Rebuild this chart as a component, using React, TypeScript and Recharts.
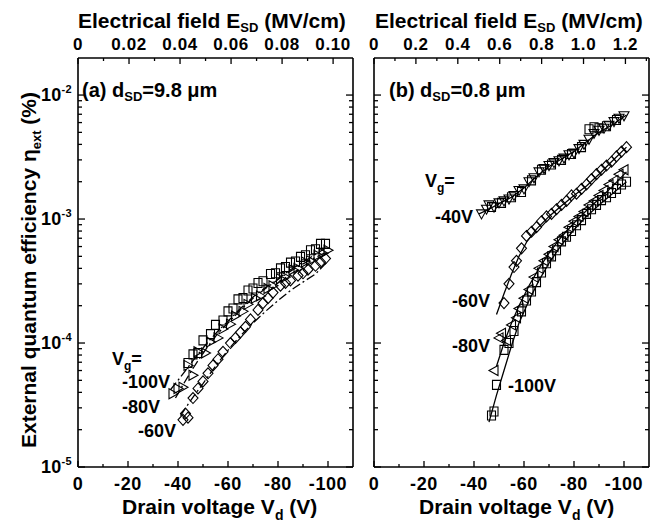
import { ScatterChart, Scatter, XAxis, YAxis } from "recharts";

const FONT = '"Liberation Sans", Arial, Helvetica, sans-serif';
const INK = "#000";

// ---- panel (a): d_SD = 9.8 um ----
const aSquareV = [-44, -46, -48, -50, -53, -55, -58, -60, -62, -64, -66, -68, -70, -72, -74, -77, -79, -81, -83, -85, -87, -89, -91, -93, -95, -97, -99];
const aSquareEta = [6.9e-5, 8.1e-5, 8.3e-5, 1.05e-4, 1.18e-4, 1.4e-4, 1.52e-4, 1.8e-4, 1.9e-4, 2.25e-4, 2.3e-4, 2.65e-4, 2.75e-4, 3.05e-4, 3.15e-4, 3.6e-4, 3.65e-4, 4.0e-4, 4.1e-4, 4.45e-4, 4.55e-4, 4.95e-4, 5.1e-4, 5.6e-4, 5.7e-4, 6.3e-4, 6.3e-4];

const aTriV = [-38, -40, -42, -44, -46, -48, -51, -53, -56, -58, -61, -63, -66, -68, -71, -73, -76, -78, -81, -83, -86, -88, -91, -93, -96, -98, -100];
const aTriEta = [3.9e-5, 4.3e-5, 4.4e-5, 6.6e-5, 5.5e-5, 8.5e-5, 8.3e-5, 1.02e-4, 1.1e-4, 1.3e-4, 1.42e-4, 1.65e-4, 1.8e-4, 2.05e-4, 2.3e-4, 2.4e-4, 2.75e-4, 2.9e-4, 3.3e-4, 3.4e-4, 3.9e-4, 4.0e-4, 4.5e-4, 4.6e-4, 5.1e-4, 5.3e-4, 5.6e-4];

const aDiamondV = [-42, -43, -44, -46, -48, -50, -52, -54, -56, -58, -61, -63, -65, -67, -69, -72, -74, -76, -78, -81, -83, -85, -88, -90, -92, -95, -97, -99];
const aDiamondEta = [2.4e-5, 2.7e-5, 2.5e-5, 3.6e-5, 4.3e-5, 4.9e-5, 5.7e-5, 6.6e-5, 7.4e-5, 8.5e-5, 1.0e-4, 1.1e-4, 1.22e-4, 1.35e-4, 1.55e-4, 1.85e-4, 2.1e-4, 2.3e-4, 2.55e-4, 2.9e-4, 3.05e-4, 3.2e-4, 3.5e-4, 3.65e-4, 3.9e-4, 4.2e-4, 4.5e-4, 4.8e-4];

const aFit100V = [-37, -40, -43, -46, -49, -52, -56, -60, -65, -70, -75, -80, -85, -90, -95, -100];
const aFit100Eta = [4.2e-5, 5.0e-5, 6.0e-5, 7.2e-5, 8.6e-5, 1.02e-4, 1.25e-4, 1.5e-4, 1.9e-4, 2.35e-4, 2.8e-4, 3.3e-4, 3.9e-4, 4.5e-4, 5.2e-4, 6.0e-4];
const aFit80V = [-39, -42, -45, -48, -52, -56, -60, -65, -70, -75, -80, -85, -90, -95, -100];
const aFit80Eta = [3.6e-5, 4.6e-5, 5.8e-5, 7.2e-5, 9.4e-5, 1.2e-4, 1.45e-4, 1.85e-4, 2.3e-4, 2.75e-4, 3.25e-4, 3.8e-4, 4.35e-4, 4.9e-4, 5.5e-4];
const aFit60V = [-41, -44, -47, -50, -54, -58, -62, -66, -70, -75, -80, -85, -90, -95, -100];
const aFit60Eta = [2.6e-5, 3.2e-5, 3.9e-5, 4.7e-5, 6.1e-5, 7.8e-5, 9.8e-5, 1.2e-4, 1.45e-4, 1.8e-4, 2.2e-4, 2.65e-4, 3.1e-4, 3.6e-4, 4.6e-4];

// ---- panel (b): d_SD = 0.8 um ----
const b40TriV = [-43, -45, -46, -48, -50, -52, -54, -56, -58, -60, -62, -64, -66, -68, -70, -72, -74, -76, -78, -80, -82, -84, -86, -88, -90, -92, -94, -96, -98, -100];
const b40TriEta = [1.1e-3, 1.2e-3, 1.3e-3, 1.25e-3, 1.35e-3, 1.4e-3, 1.45e-3, 1.55e-3, 1.7e-3, 1.75e-3, 2.0e-3, 2.15e-3, 2.4e-3, 2.55e-3, 2.7e-3, 2.85e-3, 2.95e-3, 3.1e-3, 3.3e-3, 3.4e-3, 3.7e-3, 4.0e-3, 4.4e-3, 4.9e-3, 5.2e-3, 5.4e-3, 5.7e-3, 6.1e-3, 6.5e-3, 6.8e-3];
const b40SquareV = [-47, -51, -55, -59, -63, -67, -71, -75, -79, -83, -86, -88, -90, -93, -97];
const b40SquareEta = [1.25e-3, 1.35e-3, 1.5e-3, 1.65e-3, 2.05e-3, 2.5e-3, 2.75e-3, 3.0e-3, 3.35e-3, 3.8e-3, 5.3e-3, 5.5e-3, 5.4e-3, 5.6e-3, 6.3e-3];

const b60DiamondV = [-52, -54, -56, -57, -59, -61, -63, -65, -67, -69, -71, -73, -75, -77, -79, -81, -83, -85, -87, -89, -91, -93, -95, -97, -99, -101];
const b60DiamondEta = [2.1e-4, 3.0e-4, 4.1e-4, 4.6e-4, 5.8e-4, 7.3e-4, 7.9e-4, 8.6e-4, 9.6e-4, 1.05e-3, 1.1e-3, 1.2e-3, 1.3e-3, 1.4e-3, 1.55e-3, 1.6e-3, 1.75e-3, 1.9e-3, 2.1e-3, 2.3e-3, 2.5e-3, 2.7e-3, 2.9e-3, 3.2e-3, 3.5e-3, 3.8e-3];

const b80TriV = [-48, -50, -51, -53, -55, -57, -58, -60, -62, -64, -66, -68, -70, -72, -74, -76, -78, -80, -82, -84, -86, -88, -90, -92, -94, -96, -98, -100];
const b80TriEta = [6.0e-5, 1.1e-4, 1.2e-4, 1.05e-4, 1.4e-4, 1.6e-4, 1.9e-4, 2.3e-4, 2.7e-4, 3.4e-4, 4.0e-4, 4.6e-4, 5.2e-4, 6.0e-4, 6.8e-4, 7.4e-4, 8.6e-4, 9.6e-4, 1.05e-3, 1.15e-3, 1.3e-3, 1.4e-3, 1.55e-3, 1.7e-3, 1.9e-3, 2.05e-3, 2.3e-3, 2.5e-3];

const b100SquareV = [-47, -48, -49, -52, -54, -56, -59, -61, -63, -65, -67, -69, -71, -73, -75, -77, -79, -81, -83, -85, -87, -89, -91, -93, -95, -97, -99, -101];
const b100SquareEta = [2.6e-5, 2.8e-5, 4.6e-5, 8.8e-5, 1.0e-4, 1.25e-4, 1.8e-4, 2.2e-4, 2.6e-4, 3.1e-4, 3.7e-4, 4.4e-4, 5.0e-4, 5.6e-4, 6.6e-4, 7.2e-4, 8.0e-4, 8.9e-4, 9.8e-4, 1.1e-3, 1.2e-3, 1.3e-3, 1.42e-3, 1.5e-3, 1.62e-3, 1.75e-3, 1.9e-3, 2.0e-3];

const bFit40V = [-42, -46, -50, -55, -60, -65, -70, -75, -80, -85, -90, -95, -101];
const bFit40Eta = [1.1e-3, 1.2e-3, 1.33e-3, 1.5e-3, 1.78e-3, 2.2e-3, 2.65e-3, 3.05e-3, 3.5e-3, 4.2e-3, 5.0e-3, 5.7e-3, 6.9e-3];
const bFit60V = [-49, -52, -55, -58, -61, -65, -70, -75, -80, -85, -90, -95, -101];
const bFit60Eta = [1.7e-4, 2.5e-4, 3.6e-4, 5.0e-4, 6.5e-4, 8.3e-4, 1.05e-3, 1.28e-3, 1.55e-3, 1.85e-3, 2.3e-3, 2.9e-3, 3.8e-3];
const bFit80V = [-49, -52, -55, -58, -62, -66, -70, -75, -80, -85, -90, -95, -101];
const bFit80Eta = [6.5e-5, 1.0e-4, 1.45e-4, 2.0e-4, 2.9e-4, 4.0e-4, 5.3e-4, 7.2e-4, 9.3e-4, 1.17e-3, 1.45e-3, 1.8e-3, 2.4e-3];
const bFit100V = [-46, -49, -52, -55, -58, -62, -66, -70, -75, -80, -85, -90, -95, -101];
const bFit100Eta = [2.3e-5, 3.8e-5, 6.0e-5, 9.5e-5, 1.45e-4, 2.2e-4, 3.2e-4, 4.4e-4, 6.2e-4, 8.2e-4, 1.05e-3, 1.3e-3, 1.58e-3, 2.0e-3];

// ---- ticks ----
const xTicks = [0, -10, -20, -30, -40, -50, -60, -70, -80, -90, -100];
const topTicksA = [0, 0.01, 0.02, 0.03, 0.04, 0.05, 0.06, 0.07, 0.08, 0.09, 0.1];
const topTicksB = [0, 0.1, 0.2, 0.3, 0.4, 0.5, 0.6, 0.7, 0.8, 0.9, 1.0, 1.1, 1.2, 1.3];
const yTicks = [
  1e-5, 2e-5, 3e-5, 4e-5, 5e-5, 6e-5, 7e-5, 8e-5, 9e-5,
  1e-4, 2e-4, 3e-4, 4e-4, 5e-4, 6e-4, 7e-4, 8e-4, 9e-4,
  1e-3, 2e-3, 3e-3, 4e-3, 5e-3, 6e-3, 7e-3, 8e-3, 9e-3,
  1e-2,
];

type Pt = { v: number; eta: number };
type Kind = "square" | "diamond" | "triR" | "triL" | "triD" | "triU";
const zip = (v: number[], e: number[]): Pt[] => v.map((x, i) => ({ v: x, eta: e[i] }));

const marker = (kind: Kind) => (p: any) => {
  const { cx, cy } = p;
  if (cx == null || cy == null) return <g />;
  let d = "";
  if (kind === "square") d = `M${cx - 4},${cy - 4.5}h8v9h-8z`;
  else if (kind === "diamond") d = `M${cx},${cy - 5.5}L${cx + 5},${cy}L${cx},${cy + 5.5}L${cx - 5},${cy}Z`;
  else if (kind === "triR") d = `M${cx - 4},${cy - 5}L${cx + 5},${cy}L${cx - 4},${cy + 5}Z`;
  else if (kind === "triL") d = `M${cx + 4},${cy - 5}L${cx - 5},${cy}L${cx + 4},${cy + 5}Z`;
  else if (kind === "triD") d = `M${cx - 5},${cy - 4}L${cx + 5},${cy - 4}L${cx},${cy + 5}Z`;
  else d = `M${cx - 5},${cy + 4}L${cx + 5},${cy + 4}L${cx},${cy - 5}Z`;
  return <path d={d} fill="none" stroke={INK} strokeWidth={1.1} />;
};
const noDot = () => <g />;

const tickText = { fontFamily: FONT, fontWeight: "bold" as const, fontSize: 18, letterSpacing: 0.6, fill: INK };

const BottomTick = (p: any) => {
  const { x, y, payload } = p;
  const v = payload.value as number;
  const major = Math.round(v) % 20 === 0;
  return (
    <g>
      <line x1={x} x2={x} y1={y} y2={y - (major ? 6 : 3)} stroke={INK} strokeWidth={1.3} />
      {major && (
        <text x={x} y={y + 23} textAnchor="middle" {...tickText}>
          {v === 0 ? "0" : String(v)}
        </text>
      )}
    </g>
  );
};

const makeTopTick = (digits: number) => (p: any) => {
  const { x, y, payload, index } = p;
  const major = index % 2 === 0;
  const v = payload.value as number;
  return (
    <g>
      <line x1={x} x2={x} y1={y} y2={y + (major ? 6 : 3)} stroke={INK} strokeWidth={1.3} />
      {major && (
        <text x={x} y={y - 8} textAnchor="middle" {...tickText} fontSize={17}>
          {v === 0 ? "0" : v.toFixed(digits)}
        </text>
      )}
    </g>
  );
};

const makeYTick = (side: "left" | "right", labels: boolean) => (p: any) => {
  const { x, y, payload } = p;
  const e = Math.log10(payload.value as number);
  const major = Math.abs(e - Math.round(e)) < 1e-6;
  const dir = side === "left" ? 1 : -1;
  return (
    <g>
      <line x1={x} x2={x + dir * (major ? 7 : 4)} y1={y} y2={y} stroke={INK} strokeWidth={1.3} />
      {labels && major && (
        <text x={x - 6} y={y + 6} textAnchor="end" {...tickText} letterSpacing={0.3}>
          10<tspan dy={-8} fontSize={11}>{Math.round(e)}</tspan>
        </text>
      )}
    </g>
  );
};

const axisLine = { stroke: INK, strokeWidth: 1.6 };
const Y_DOMAIN: [number, number] = [1e-5, 0.0199];

type PanelProps = {
  width: number;
  leftW: number;
  rightW: number;
  yLabels: boolean;
  topDomain: [number, number];
  topTicks: number[];
  topDigits: number;
  markers: { data: Pt[]; kind: Kind }[];
  fits: Pt[][];
  fitDash?: string;
};

function Panel(props: PanelProps) {
  const { width, leftW, rightW, yLabels, topDomain, topTicks, topDigits, markers, fits, fitDash } = props;
  // invisible anchor so the top / right mirror axes get their scales
  const anchor = topTicks.map((t) => ({ e: t, eta: Y_DOMAIN[0] }));
  return (
    <ScatterChart width={width} height={524} margin={{ top: 0, right: 0, bottom: 0, left: 0 }}>
      <XAxis
        dataKey="v"
        type="number"
        domain={[-110, 0]}
        reversed
        allowDataOverflow
        ticks={xTicks}
        interval={0}
        height={57}
        tickSize={0}
        tickMargin={0}
        tickLine={false}
        axisLine={axisLine}
        tick={BottomTick}
      />
      <XAxis
        xAxisId="t"
        dataKey="e"
        orientation="top"
        type="number"
        domain={topDomain}
        allowDataOverflow
        ticks={topTicks}
        interval={0}
        height={58}
        tickSize={0}
        tickMargin={0}
        tickLine={false}
        axisLine={axisLine}
        tick={makeTopTick(topDigits)}
      />
      <YAxis
        dataKey="eta"
        type="number"
        scale="log"
        domain={Y_DOMAIN}
        allowDataOverflow
        ticks={yTicks}
        interval={0}
        width={leftW}
        tickSize={0}
        tickMargin={0}
        tickLine={false}
        axisLine={axisLine}
        tick={makeYTick("left", yLabels)}
      />
      <YAxis
        yAxisId="r"
        dataKey="eta"
        orientation="right"
        type="number"
        scale="log"
        domain={Y_DOMAIN}
        allowDataOverflow
        ticks={yTicks}
        interval={0}
        width={rightW}
        tickSize={0}
        tickMargin={0}
        tickLine={false}
        axisLine={axisLine}
        tick={makeYTick("right", false)}
      />
      <Scatter xAxisId="t" yAxisId="r" data={anchor} shape={noDot} isAnimationActive={false} />
      {fits.map((f, i) => (
        <Scatter
          key={`fit-${i}`}
          data={f}
          line={{ stroke: INK, strokeWidth: 1.3, strokeDasharray: fitDash }}
          lineType="joint"
          shape={noDot}
          isAnimationActive={false}
        />
      ))}
      {markers.map((m, i) => (
        <Scatter key={`m-${i}`} data={m.data} shape={marker(m.kind)} isAnimationActive={false} />
      ))}
    </ScatterChart>
  );
}

const txt = { fontFamily: FONT, fontWeight: "bold" as const, fill: INK };

export default function App() {
  return (
    <div style={{ position: "absolute", left: 0, top: 0, width: 654, height: 524, background: "#fff" }}>
      <div style={{ position: "absolute", left: 0, top: 0 }}>
        <Panel
          width={360}
          leftW={78}
          rightW={7}
          yLabels
          topDomain={[0, 0.1078]}
          topTicks={topTicksA}
          topDigits={2}
          fitDash="9 3 2 3"
          fits={[zip(aFit100V, aFit100Eta), zip(aFit80V, aFit80Eta), zip(aFit60V, aFit60Eta)]}
          markers={[
            { data: zip(aDiamondV, aDiamondEta), kind: "diamond" },
            { data: zip(aTriV, aTriEta), kind: "triR" },
            { data: zip(aSquareV, aSquareEta), kind: "square" },
          ]}
        />
      </div>
      <div style={{ position: "absolute", left: 360, top: 0 }}>
        <Panel
          width={294}
          leftW={14}
          rightW={5}
          yLabels={false}
          topDomain={[0, 1.3125]}
          topTicks={topTicksB}
          topDigits={1}
          fits={[zip(bFit40V, bFit40Eta), zip(bFit60V, bFit60Eta), zip(bFit80V, bFit80Eta), zip(bFit100V, bFit100Eta)]}
          markers={[
            { data: zip(b40TriV, b40TriEta), kind: "triD" },
            { data: zip(b40SquareV, b40SquareEta), kind: "square" },
            { data: zip(b60DiamondV, b60DiamondEta), kind: "diamond" },
            { data: zip(b80TriV, b80TriEta), kind: "triL" },
            { data: zip(b100SquareV, b100SquareEta), kind: "square" },
          ]}
        />
      </div>
      <svg width={654} height={524} style={{ position: "absolute", left: 0, top: 0, pointerEvents: "none" }}>
        <text {...txt} fontSize={21} transform="translate(36,270) rotate(-90)" textAnchor="middle">
          External quantum efficiency η<tspan fontSize={13} dy={5}>ext</tspan>
          <tspan dy={-5}> (%)</tspan>
        </text>

        <text {...txt} fontSize={21} x={78} y={28}>
          Electrical field E<tspan fontSize={13} dy={4}>SD</tspan>
          <tspan dy={-4}> (MV/cm)</tspan>
        </text>
        <text {...txt} fontSize={21} x={375} y={28}>
          Electrical field E<tspan fontSize={13} dy={4}>SD</tspan>
          <tspan dy={-4}> (MV/cm)</tspan>
        </text>

        <text {...txt} fontSize={21} x={122} y={514}>
          Drain voltage V<tspan fontSize={14} dy={6}>d</tspan>
          <tspan dy={-6}> (V)</tspan>
        </text>
        <text {...txt} fontSize={21} x={419} y={514}>
          Drain voltage V<tspan fontSize={14} dy={6}>d</tspan>
          <tspan dy={-6}> (V)</tspan>
        </text>

        <text {...txt} fontSize={20} x={82} y={97}>
          (a) d<tspan fontSize={13} dy={4}>SD</tspan>
          <tspan dy={-4}>=9.8 μm</tspan>
        </text>
        <text {...txt} fontSize={20} x={389} y={97}>
          (b) d<tspan fontSize={13} dy={4}>SD</tspan>
          <tspan dy={-4}>=0.8 μm</tspan>
        </text>

        <text {...txt} fontSize={18} x={112} y={365}>
          V<tspan fontSize={12} dy={5}>g</tspan>
          <tspan dy={-5}>=</tspan>
        </text>
        <text {...txt} fontSize={18} x={122} y={388}>-100V</text>
        <text {...txt} fontSize={18} x={122} y={413}>-80V</text>
        <text {...txt} fontSize={18} x={138} y={437}>-60V</text>

        <text {...txt} fontSize={18} x={425} y={187}>
          V<tspan fontSize={12} dy={5}>g</tspan>
          <tspan dy={-5}>=</tspan>
        </text>
        <text {...txt} fontSize={18} x={435} y={223}>-40V</text>
        <text {...txt} fontSize={18} x={452} y={307}>-60V</text>
        <text {...txt} fontSize={18} x={452} y={352}>-80V</text>
        <text {...txt} fontSize={18} x={508} y={392}>-100V</text>
      </svg>
    </div>
  );
}
